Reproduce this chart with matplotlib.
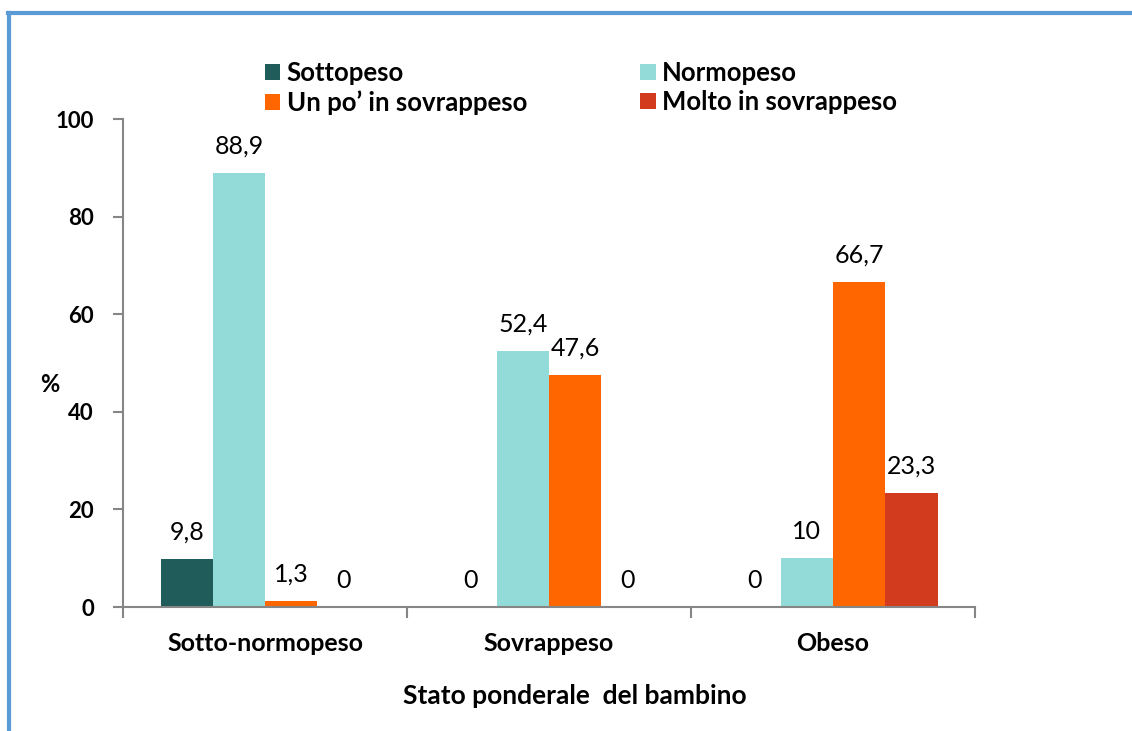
import numpy as np
import matplotlib.pyplot as plt
from matplotlib.lines import Line2D

plt.rcParams['font.family'] = ['Lato', 'DejaVu Sans']

# DATA
categories = ["Sotto-normopeso", "Sovrappeso", "Obeso"]
series_names = ["Sottopeso", "Normopeso", "Un po\u2019 in sovrappeso", "Molto in sovrappeso"]
sottopeso = [9.8, 0, 0]
normopeso = [88.9, 52.4, 10]
un_po = [1.3, 47.6, 66.7]
molto = [0, 0, 23.3]
colors = ["#1F5C5A", "#92DBD8", "#FF6600", "#D33B1F"]

values = [sottopeso, normopeso, un_po, molto]

fig = plt.figure(figsize=(11.32, 7.31), dpi=100)
ax = fig.add_axes([0.1087, 0.1696, 0.7526, 0.6676])

x = np.arange(len(categories))
w = 0.184
handles = []
for i, (vals, col) in enumerate(zip(values, colors)):
    pos = x + (i - 1.5) * w
    b = ax.bar(pos, vals, width=w, color=col, label=series_names[i], zorder=2)
    handles.append(b)
    for p, v in zip(pos, vals):
        txt = f"{v:g}".replace(".", ",")
        ax.annotate(txt, (p, v), xytext=(0, 11), textcoords="offset points",
                    ha="center", va="bottom", fontsize=18)

ax.set_xlim(-0.5, 2.5)
ax.set_ylim(0, 100)
ax.set_yticks([0, 20, 40, 60, 80, 100])
ax.set_yticklabels(["0", "20", "40", "60", "80", "100"], fontsize=16, fontweight="bold")
ax.set_xticks(x)
ax.set_xticklabels(categories, fontsize=18, fontweight="bold")
ax.set_xticks([-0.5, 0.5, 1.5, 2.5], minor=True)
ax.tick_params(axis="x", which="major", length=0, pad=18)
ax.tick_params(axis="x", which="minor", length=8, color="#868686", width=1.5)
ax.tick_params(axis="y", length=7, color="#868686", width=1.5, pad=14)
for s in ["top", "right"]:
    ax.spines[s].set_visible(False)
for s in ["left", "bottom"]:
    ax.spines[s].set_color("#868686")
    ax.spines[s].set_linewidth(1.5)

fig.text(50 / 1132, 1 - 385 / 731, "%", ha="center", va="center",
         fontsize=17, fontweight="bold")
fig.text(575 / 1132, 1 - 696 / 731, "Stato ponderale  del bambino", ha="center", va="center",
         fontsize=19, fontweight="bold")

order = [0, 2, 1, 3]
fig.legend([handles[i] for i in order], [series_names[i] for i in order], ncol=2,
           loc="upper left", bbox_to_anchor=(252 / 1132, 1 - 48 / 731), frameon=False,
           prop={"weight": "bold", "size": 18.5}, handlelength=0.6, handleheight=0.6,
           handletextpad=0.25, columnspacing=4.4, labelspacing=0.2, borderpad=0)

# blue frame (left and top)
fig.add_artist(Line2D([9 / 1132, 9 / 1132], [0, 1 - 13 / 731], color="#5B9BD5", lw=3,
                      transform=fig.transFigure))
fig.add_artist(Line2D([8 / 1132, 1], [1 - 13 / 731, 1 - 13 / 731], color="#5B9BD5", lw=3,
                      transform=fig.transFigure))

fig.savefig("out.png", dpi=100)
